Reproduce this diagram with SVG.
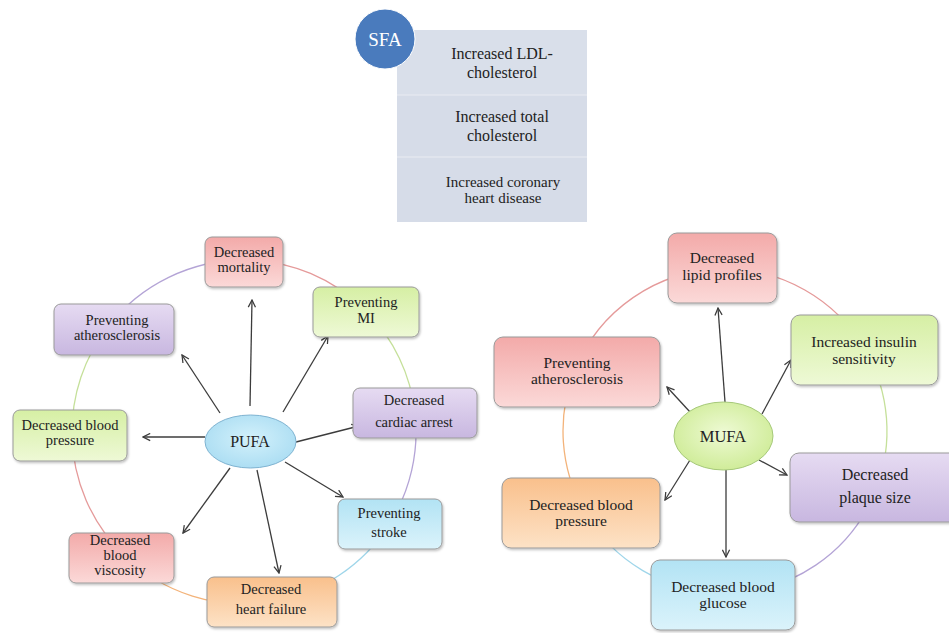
<svg xmlns="http://www.w3.org/2000/svg" width="949" height="633" viewBox="0 0 949 633">
<style>
.t{font-family:'Liberation Serif','Times New Roman',serif;fill:#222222;text-anchor:middle}
.p{font-size:14.5px}
.m{font-size:15.5px}
.s{font-size:16px}
.box{stroke:#9a9a9a;stroke-width:1;filter:url(#sh)}
.arr{stroke:#3c3c3c;stroke-width:1.3;fill:none;marker-end:url(#ah)}
.ring{fill:none;stroke-width:1.3}
</style>
<defs>
<filter id="sh" x="-10%" y="-10%" width="125%" height="130%"><feDropShadow dx="1" dy="1.5" stdDeviation="1.2" flood-color="#000" flood-opacity="0.25"/></filter>
<linearGradient id="gR" x1="0" y1="0" x2="0" y2="1"><stop offset="0" stop-color="#f3aaa9"/><stop offset="1" stop-color="#fbd9d8"/></linearGradient>
<linearGradient id="gG" x1="0" y1="0" x2="0" y2="1"><stop offset="0" stop-color="#d6efa4"/><stop offset="1" stop-color="#eef9d6"/></linearGradient>
<linearGradient id="gP" x1="0" y1="0" x2="0" y2="1"><stop offset="0" stop-color="#e6dbf2"/><stop offset="1" stop-color="#c8b7e0"/></linearGradient>
<linearGradient id="gC" x1="0" y1="0" x2="0" y2="1"><stop offset="0" stop-color="#b2e3f4"/><stop offset="1" stop-color="#dbf3fb"/></linearGradient>
<linearGradient id="gO" x1="0" y1="0" x2="0" y2="1"><stop offset="0" stop-color="#f9c08c"/><stop offset="1" stop-color="#fde2c6"/></linearGradient>
<radialGradient id="gPU" cx="0.5" cy="0.45" r="0.6"><stop offset="0" stop-color="#d3f1fb"/><stop offset="1" stop-color="#a9dcf2"/></radialGradient>
<radialGradient id="gMU" cx="0.5" cy="0.45" r="0.6"><stop offset="0" stop-color="#eefad4"/><stop offset="1" stop-color="#cdeb94"/></radialGradient>
<marker id="ah" viewBox="0 0 10 10" refX="9" refY="5" markerWidth="9" markerHeight="9" orient="auto" markerUnits="userSpaceOnUse"><path d="M1,1 L9,5 L1,9" fill="none" stroke="#3c3c3c" stroke-width="1.4"/></marker>
</defs>
<rect width="949" height="633" fill="#ffffff"/>

<!-- SFA -->
<g id="sfa-box">
<rect x="397" y="30" width="190" height="192" fill="#d6dce8"/>
<rect x="397" y="30" width="190" height="65" fill="#d9dfea"/>
<line x1="397" y1="95" x2="587" y2="95" stroke="#e3e7ef" stroke-width="1.5"/>
<line x1="397" y1="157" x2="587" y2="157" stroke="#e3e7ef" stroke-width="1.5"/>
<text class="t s" x="502" y="59">Increased LDL-</text>
<text class="t s" x="502" y="78">cholesterol</text>
<text class="t s" x="502" y="122">Increased total</text>
<text class="t s" x="502" y="141">cholesterol</text>
<text class="t m" x="503" y="187" style="font-size:15px">Increased coronary</text>
<text class="t m" x="503" y="203" style="font-size:15px">heart disease</text>
</g>
<g id="sfa">
<circle cx="385" cy="39" r="30" fill="#4a7bbd" stroke="#ffffff" stroke-width="1"/>
<text class="t" x="385" y="46" style="font-size:19px;fill:#ffffff">SFA</text>
</g>

<!-- rings -->
<g id="rings">
<path class="ring" stroke="#e59a9a" d="M244,260 A172,172 0 0 1 366.7,311.5"/>
<path class="ring" stroke="#c5e09a" d="M366.7,311.5 A172,172 0 0 1 415,413"/>
<path class="ring" stroke="#b4a4d6" d="M415,413 A172,172 0 0 1 389.6,523.6"/>
<path class="ring" stroke="#9fd6ea" d="M389.6,523.6 A172,172 0 0 1 272.1,601.7"/>
<path class="ring" stroke="#f3b37a" d="M272.1,601.7 A172,172 0 0 1 123.9,555.1"/>
<path class="ring" stroke="#e59a9a" d="M123.9,555.1 A172,172 0 0 1 72,435"/>
<path class="ring" stroke="#c5e09a" d="M72,435 A172,172 0 0 1 108.6,325.9"/>
<path class="ring" stroke="#b4a4d6" d="M108.6,325.9 A172,172 0 0 1 244,260"/>

<path class="ring" stroke="#e59a9a" d="M722.5,269 A162,162 0 0 1 865.2,349.8"/>
<path class="ring" stroke="#c5e09a" d="M865.2,349.8 A162,162 0 0 1 876.1,489.3"/>
<path class="ring" stroke="#b4a4d6" d="M876.1,489.3 A162,162 0 0 1 723,593"/>
<path class="ring" stroke="#9fd6ea" d="M723,593 A162,162 0 0 1 584.3,511.3"/>
<path class="ring" stroke="#f3b37a" d="M584.3,511.3 A162,162 0 0 1 574.5,371.1"/>
<path class="ring" stroke="#e59a9a" d="M574.5,371.1 A162,162 0 0 1 722.5,269"/>
</g>

<!-- connectors -->
<g id="connectors">
<line class="arr" x1="250" y1="406" x2="252" y2="300"/>
<line class="arr" x1="283" y1="412" x2="328" y2="336"/>
<line class="arr" x1="220" y1="413" x2="182" y2="355"/>
<line class="arr" x1="296" y1="442" x2="359" y2="426"/>
<line class="arr" x1="205" y1="437" x2="143" y2="437"/>
<line class="arr" x1="285" y1="462" x2="343" y2="497"/>
<line class="arr" x1="230" y1="468" x2="183" y2="533"/>
<line class="arr" x1="257" y1="470" x2="279" y2="573"/>

<line class="arr" x1="725" y1="402" x2="718" y2="308"/>
<line class="arr" x1="762" y1="414" x2="791" y2="360"/>
<line class="arr" x1="690" y1="412" x2="667" y2="387"/>
<line class="arr" x1="759" y1="460" x2="787" y2="475"/>
<line class="arr" x1="690" y1="460" x2="665" y2="500"/>
<line class="arr" x1="726" y1="470" x2="726" y2="557"/>
</g>

<!-- PUFA nodes -->
<g id="pufa">
<ellipse cx="250.5" cy="441.5" rx="45.5" ry="26.5" fill="url(#gPU)" stroke="#7fb3d1" stroke-width="1"/>
<text class="t" x="250" y="447" style="font-size:16px">PUFA</text>
</g>
<g id="p-mortality">
<rect class="box" x="205" y="237" width="78" height="50" rx="7" fill="url(#gR)"/>
<text class="t p" x="244" y="257">Decreased</text>
<text class="t p" x="244" y="272">mortality</text>
</g>
<g id="p-mi">
<rect class="box" x="313" y="287" width="106" height="50" rx="7" fill="url(#gG)"/>
<text class="t p" x="366" y="307">Preventing</text>
<text class="t p" x="366" y="323">MI</text>
</g>
<g id="p-athero">
<rect class="box" x="54" y="304" width="120" height="51" rx="7" fill="url(#gP)"/>
<text class="t p" x="117" y="325">Preventing</text>
<text class="t p" x="117" y="340">atherosclerosis</text>
</g>
<g id="p-cardiac">
<rect class="box" x="353" y="388" width="124" height="50" rx="7" fill="url(#gP)"/>
<text class="t p" x="414" y="405">Decreased</text>
<text class="t p" x="414" y="427">cardiac  arrest</text>
</g>
<g id="p-bp">
<rect class="box" x="13" y="410" width="114" height="51" rx="7" fill="url(#gG)"/>
<text class="t p" x="70" y="430">Decreased blood</text>
<text class="t p" x="70" y="445">pressure</text>
</g>
<g id="p-stroke">
<rect class="box" x="338" y="499" width="104" height="50" rx="7" fill="url(#gC)"/>
<text class="t p" x="389" y="518">Preventing</text>
<text class="t p" x="389" y="537">stroke</text>
</g>
<g id="p-viscosity">
<rect class="box" x="69" y="533" width="105" height="50" rx="7" fill="url(#gR)"/>
<text class="t p" x="120" y="545">Decreased</text>
<text class="t p" x="120" y="560">blood</text>
<text class="t p" x="120" y="575">viscosity</text>
</g>
<g id="p-hf">
<rect class="box" x="207" y="577" width="130" height="50" rx="7" fill="url(#gO)"/>
<text class="t p" x="271" y="594">Decreased</text>
<text class="t p" x="271" y="614">heart failure</text>
</g>

<!-- MUFA nodes -->
<g id="mufa">
<ellipse cx="723.5" cy="436" rx="49.5" ry="34" fill="url(#gMU)" stroke="#a6c97a" stroke-width="1"/>
<text class="t" x="723" y="442" style="font-size:16.5px">MUFA</text>
</g>
<g id="m-lipid">
<rect class="box" x="668" y="233" width="109" height="70" rx="9" fill="url(#gR)"/>
<text class="t m" x="722" y="263">Decreased</text>
<text class="t m" x="722" y="280">lipid  profiles</text>
</g>
<g id="m-insulin">
<rect class="box" x="791" y="315" width="147" height="70" rx="9" fill="url(#gG)"/>
<text class="t m" x="864" y="347">Increased insulin</text>
<text class="t m" x="864" y="364">sensitivity</text>
</g>
<g id="m-athero">
<rect class="box" x="494" y="337" width="166" height="70" rx="9" fill="url(#gR)"/>
<text class="t m" x="577" y="368">Preventing</text>
<text class="t m" x="577" y="384">atherosclerosis</text>
</g>
<g id="m-plaque">
<rect class="box" x="790" y="453" width="175" height="69" rx="9" fill="url(#gP)"/>
<text class="t m" x="875" y="480" style="font-size:16px">Decreased</text>
<text class="t m" x="875" y="503" style="font-size:16px">plaque  size</text>
</g>
<g id="m-bp">
<rect class="box" x="502" y="478" width="158" height="70" rx="9" fill="url(#gO)"/>
<text class="t m" x="581" y="510">Decreased blood</text>
<text class="t m" x="581" y="526">pressure</text>
</g>
<g id="m-glucose">
<rect class="box" x="651" y="560" width="144" height="70" rx="9" fill="url(#gC)"/>
<text class="t m" x="723" y="592">Decreased blood</text>
<text class="t m" x="723" y="608">glucose</text>
</g>
</svg>
